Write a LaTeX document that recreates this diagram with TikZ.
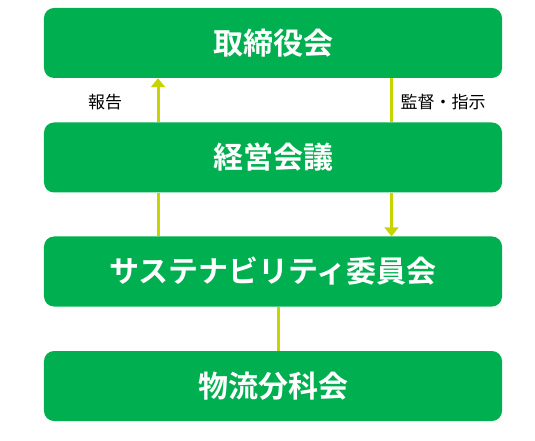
\documentclass[tikz,border=0pt]{standalone}
\usepackage{fontspec}
\newfontfamily\jpb{Noto Sans CJK JP Bold}
\newfontfamily\jp{Noto Sans CJK JP}
\usetikzlibrary{arrows.meta}
\definecolor{boxgreen}{HTML}{00AF50}
\definecolor{linkcol}{HTML}{C8D400}
\tikzset{
  box/.style={fill=boxgreen, draw=none, rounded corners=10bp, minimum width=458bp, minimum height=70bp, inner sep=0pt, text=white, font=\jpb\fontsize{30bp}{34bp}\selectfont},
  link/.style={draw=linkcol, line width=3bp},
  linkarrow/.style={link, -{Triangle[width=14bp,length=9bp]}},
  lbl/.style={font=\jp\fontsize{17bp}{20bp}\selectfont, text=black, inner sep=0pt}
}
\begin{document}
\begin{tikzpicture}[x=1bp,y=-1bp]
\useasboundingbox (0,0) rectangle (535,441);
\node[box] (b1) at (273,43) {取締役会};
\node[box] (b2) at (273,157.5) {経営会議};
\node[box] (b3) at (273,271.5) {サステナビリティ委員会};
\node[box] (b4) at (273,386) {物流分科会};
\coordinate (xl) at (158,0);
\coordinate (xr) at (391.5,0);
\coordinate (xc) at (278,0);
\draw[linkarrow] (b2.north -| xl) -- (b1.south -| xl);
\draw[link] (b3.north -| xl) -- (b2.south -| xl);
\draw[link] (b1.south -| xr) -- (b2.north -| xr);
\draw[linkarrow] (b2.south -| xr) -- (b3.north -| xr);
\draw[link] (b3.south -| xc) -- (b4.north -| xc);
\node[lbl] (l1) at (105,102) {報告};
\node[lbl] (l2) at (443,102) {監督・指示};
\end{tikzpicture}
\end{document}
